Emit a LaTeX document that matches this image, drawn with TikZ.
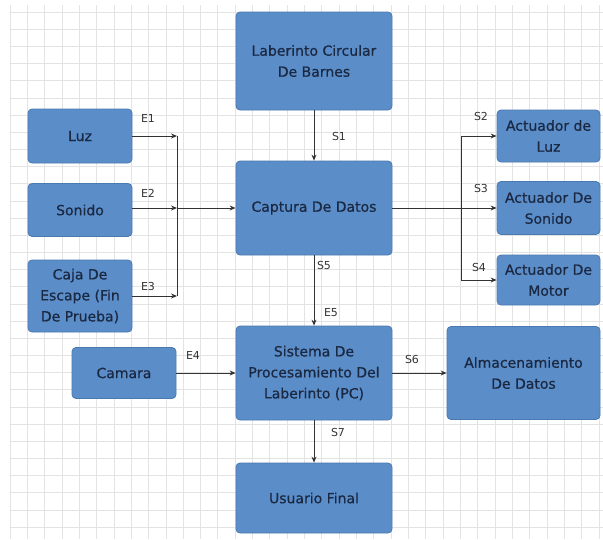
\documentclass[tikz,border=0pt]{standalone}
\usepackage{fontspec}
\setmainfont{DejaVu Sans}
\newfontface\cajafont[FakeBold=0.7]{DejaVu Sans}
\usetikzlibrary{arrows.meta}
\definecolor{boxblue}{HTML}{5B8EC9}
\definecolor{boxline}{HTML}{4A78B0}
\definecolor{boxtext}{HTML}{1B2842}
\definecolor{gridgray}{HTML}{E3E3E3}
\definecolor{wire}{HTML}{333333}
\tikzset{
  bloque/.style={draw=boxline,fill=boxblue,rounded corners=4pt,line width=0.8pt,
    align=center,text=boxtext,font=\cajafont\fontsize{14}{21}\selectfont,inner sep=0pt},
  flecha/.style={draw=wire,line width=0.9pt,-{Stealth[length=6pt,width=5pt]}},
  linea/.style={draw=wire,line width=0.9pt},
  etiq/.style={text=wire,font=\fontsize{11}{13}\selectfont,inner sep=0pt}
}

\begin{document}
\begin{tikzpicture}[x=1pt,y=-1pt]
       \useasboundingbox (0,0) rectangle (603,539);
       % cuadricula de fondo
       \begin{scope}
       \clip (10,5) rectangle (603,539);
       \foreach \i in {0,...,34}
         \draw[gridgray,line width=0.7pt] (10+\i*17.32,5) -- (10+\i*17.32,539);
       \foreach \j in {0,...,31}
         \draw[gridgray,line width=0.7pt] (10,12+\j*17.17) -- (603,12+\j*17.17);
       \end{scope}
       % bloques
       \node[bloque,minimum width=156pt,minimum height=98pt](lab)at(314,61){Laberinto Circular\\De Barnes};
       \node[bloque,minimum width=104pt,minimum height=54pt](luz)at(80,136){Luz};
       \node[bloque,minimum width=104pt,minimum height=53pt](son)at(80,210){Sonido};
       \node[bloque,minimum width=104pt,minimum height=72pt](caja)at(80,296){Caja De\\Escape (Fin\\De Prueba)};
       \node[bloque,minimum width=156pt,minimum height=94pt](cap)at(314,208){Captura De Datos};
       \node[bloque,minimum width=103pt,minimum height=52pt](al)at(548.5,136){Actuador de\\Luz};
       \node[bloque,minimum width=103pt,minimum height=53pt](as)at(548.5,208){Actuador De\\Sonido};
       \node[bloque,minimum width=103pt,minimum height=50pt](am)at(548.5,280){Actuador De\\Motor};
       \node[bloque,minimum width=104pt,minimum height=51pt](cam)at(124,373){Camara};
       \node[bloque,minimum width=156pt,minimum height=94pt](sis)at(314,373){Sistema De\\Procesamiento Del\\Laberinto (PC)};
       \node[bloque,minimum width=153pt,minimum height=93pt](alm)at(523.5,373){Almacenamiento\\De Datos};
       \node[bloque,minimum width=156pt,minimum height=70pt](usu)at(314,498){Usuario Final};
       % buses
       \coordinate(bi)at(177,208);
       \coordinate(bd)at(461,208);
       % conectores de entrada
       \draw[flecha](luz.east)--(luz.east-|bi);
       \draw[flecha](son.east|-bi)--(bi);
       \draw[flecha](caja.east)--(caja.east-|bi);
       \draw[linea](luz.east-|bi)--(caja.east-|bi);
       \draw[flecha](bi)--(cap.west);
       \draw[flecha](lab.south)--(cap.north);
       % conectores de salida
       \draw[linea](cap.east)--(bd);
       \draw[linea](bd|-al.west)--(bd|-am.west);
       \draw[flecha](bd|-al.west)--(al.west);
       \draw[flecha](bd)--(as.west);
       \draw[flecha](bd|-am.west)--(am.west);
       \draw[flecha](cap.south)--(sis.north);
       \draw[flecha](cam.east)--(sis.west);
       \draw[flecha](sis.east)--(alm.west);
       \draw[flecha](sis.south)--(usu.north);
       % etiquetas
       \node[etiq](e1)at(148,118){E1};
       \node[etiq](e2)at(148,193){E2};
       \node[etiq](e3)at(148,286){E3};
       \node[etiq](e4)at(193,355){E4};
       \node[etiq](e5)at(331,313){E5};
       \node[etiq](s1)at(339,136){S1};
       \node[etiq](s2)at(481,116){S2};
       \node[etiq](s3)at(481,188){S3};
       \node[etiq](s4)at(479,267){S4};
       \node[etiq](s5)at(324,265){S5};
       \node[etiq](s6)at(412,359){S6};
       \node[etiq](s7)at(338,432){S7};
      \end{tikzpicture}
\end{document}
